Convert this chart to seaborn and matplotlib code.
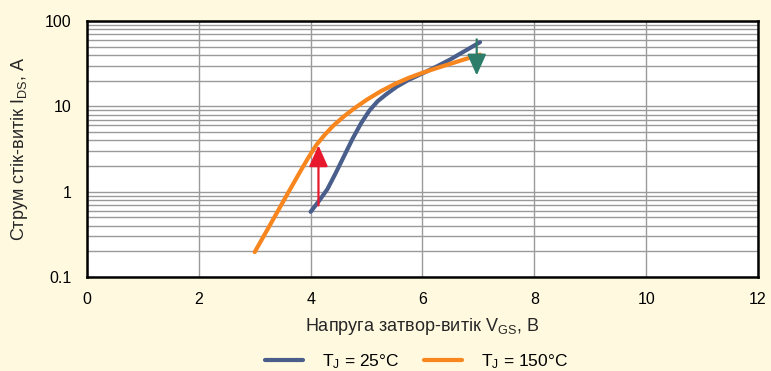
import pandas as pd
import seaborn as sns
import matplotlib.pyplot as plt

# data
vgs_25 = [4.0, 4.15, 4.3, 4.45, 4.6, 4.75, 4.9, 5.05, 5.2, 5.35, 5.54, 5.75, 6.0, 6.25, 6.5, 6.75, 7.03]
ids_25 = [0.58, 0.78, 1.07, 1.66, 2.63, 4.17, 6.3, 8.9, 11.5, 13.8, 17.0, 20.4, 24.3, 29.2, 35.5, 44.2, 56.5]
vgs_150 = [3.0, 3.3, 3.6, 3.8, 3.95, 4.1, 4.25, 4.4, 4.6, 4.8, 5.0, 5.25, 5.5, 5.75, 6.0, 6.25, 6.5, 6.75, 7.03]
ids_150 = [0.196, 0.437, 0.977, 1.66, 2.45, 3.51, 4.62, 5.89, 7.67, 9.66, 11.9, 14.96, 18.2, 21.5, 24.7, 28.0, 31.5, 35.5, 40.4]
labels = [r"T$\mathregular{_J}$ = 25°C", r"T$\mathregular{_J}$ = 150°C"]
x_ticks = [0, 2, 4, 6, 8, 10, 12]
y_ticks = [0.1, 1, 10, 100]
y_tick_labels = ["0.1", "1", "10", "100"]
arrow_up = (4.14, 0.69, 3.49)     # x, from, to
arrow_down = (6.97, 61, 23)

df = pd.concat([
    pd.DataFrame({"vgs": vgs_25, "ids": ids_25, "series": labels[0]}),
    pd.DataFrame({"vgs": vgs_150, "ids": ids_150, "series": labels[1]}),
])

sns.set_style("white")
plt.rcParams['font.family'] = ['Liberation Sans', 'DejaVu Sans']
plt.rcParams['mathtext.fontset'] = 'custom'
plt.rcParams['mathtext.rm'] = 'Liberation Sans'
plt.rcParams['text.color'] = 'black'

bg = "#FFFADF"
fig = plt.figure(figsize=(7.71, 3.71), dpi=100, facecolor=bg)
ax = fig.add_axes([0.1128, 0.2534, 0.8703, 0.69])

ax.set_yscale("log")
ax.set_xlim(0, 12)
ax.set_ylim(0.1, 100)
ax.grid(True, which="both", axis="y", color="#9a9a9a", lw=1)
ax.grid(True, which="major", axis="x", color="#9a9a9a", lw=1)
ax.set_axisbelow(True)

sns.lineplot(data=df, x="vgs", y="ids", hue="series", ax=ax, sort=True,
             palette={labels[0]: "#4A5E8C", labels[1]: "#F7861E"}, lw=3,
             legend=False)
for ln in ax.get_lines():
    ln.set_solid_joinstyle("round")

# annotation arrows
style = "-|>,head_length=1.3,head_width=0.58"
ax.annotate("", xy=(arrow_up[0], arrow_up[2]), xytext=(arrow_up[0], arrow_up[1]),
            arrowprops=dict(arrowstyle=style, color="#E8192C", lw=1.6,
                            shrinkA=0, shrinkB=0, mutation_scale=10))
ax.annotate("", xy=(arrow_down[0], arrow_down[2]), xytext=(arrow_down[0], arrow_down[1]),
            arrowprops=dict(arrowstyle=style, color="#2E7D6A", lw=1.6,
                            shrinkA=0, shrinkB=0, mutation_scale=10))

ax.set_xticks(x_ticks)
ax.set_yticks(y_ticks)
ax.set_yticklabels(y_tick_labels)
ax.tick_params(labelsize=11.5, length=0, colors="black")
ax.tick_params(axis="y", pad=11)
ax.tick_params(axis="x", pad=11)
for s in ax.spines.values():
    s.set_color("black")
    s.set_linewidth(1.8)

ax.set_xlabel(r"Напруга затвор-витік V$\mathregular{_{GS}}$, В", fontsize=13, labelpad=6)
ax.set_ylabel(r"Струм стік-витік I$\mathregular{_{DS}}$, А", fontsize=13, labelpad=11)

handles = [plt.Line2D([], [], color="#4A5E8C", lw=3),
           plt.Line2D([], [], color="#F7861E", lw=3)]
fig.legend(handles, labels, loc="center", bbox_to_anchor=(0.54, 0.026), ncol=2,
           frameon=False, fontsize=12.5, handlelength=2.2, columnspacing=1.4,
           handletextpad=1.1, borderpad=0.2)

fig.savefig("out.png", dpi=100, facecolor=bg)
